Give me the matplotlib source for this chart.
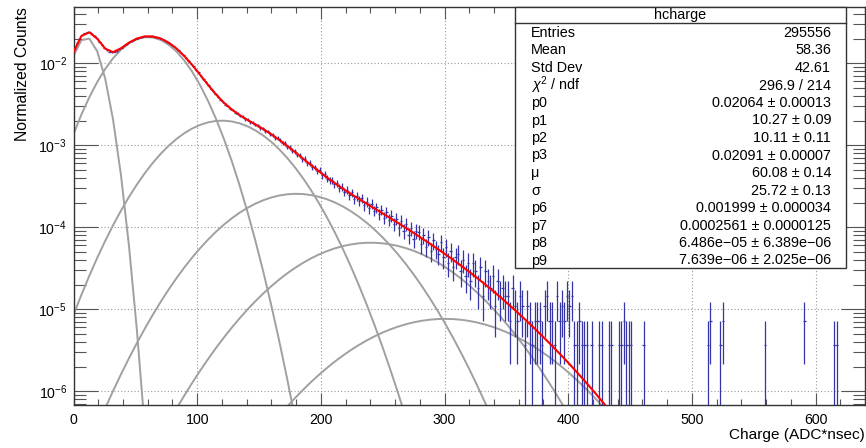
import numpy as np
import matplotlib
matplotlib.use('Agg')
import matplotlib.pyplot as plt
from matplotlib.patches import Rectangle
from matplotlib.ticker import LogLocator, MultipleLocator, NullFormatter

plt.rcParams['font.family'] = ['Liberation Sans', 'DejaVu Sans']
plt.rcParams['mathtext.fontset'] = 'custom'
plt.rcParams['mathtext.rm'] = 'Liberation Sans'
plt.rcParams['mathtext.it'] = 'Liberation Sans:italic'
plt.rcParams['mathtext.sf'] = 'Liberation Sans'

# Histogram: 2 ADC*nsec bins from 0 to 640, raw counts per bin
BIN_WIDTH = 2
X_MAX = 640
N_NORM = 274700.0  # counts -> normalized counts

# bins centred at 1, 3, 5, ..., 359
counts_low = [
    4150, 4890, 5510, 6080, 6420, 6610, 6530, 6340, 5950, 5540,
    5030, 4600, 4260, 3960, 3820, 3740, 3800, 3880, 4060, 4240,
    4480, 4690, 4930, 5110, 5330, 5480, 5650, 5730, 5840, 5860,
    5900, 5850, 5820, 5720, 5630, 5460, 5320, 5090, 4920, 4660,
    4450, 4180, 3960, 3680, 3450, 3180, 2970, 2710, 2520, 2290,
    2130, 1920, 1780, 1610, 1500, 1350, 1270, 1150, 1080, 985,
    935, 860, 825, 765, 740, 688, 668, 625, 612, 572,
    563, 528, 520, 488, 480, 448, 441, 412, 405, 376,
    369, 340, 336, 318, 293, 290, 262, 259, 236, 233,
    211, 208, 186, 187, 166, 168, 149, 148, 134, 139,
    118, 121, 108, 103, 104, 92, 94, 83, 85, 74,
    78, 68, 73, 61, 66, 58, 62, 51, 56, 47,
    53, 44, 48, 40, 45, 36, 42, 34, 38, 30,
    35, 27, 33, 25, 30, 22, 27, 20, 25, 24,
    17, 22, 16, 21, 14, 19, 15, 13, 18, 12,
    16, 10, 14, 9, 12, 13, 8, 11, 7, 10,
    6, 10, 8, 5, 9, 4, 8, 6, 5, 7,
    3, 6, 4, 5, 4, 4, 2, 5, 3, 2,
]

# sparse tail above 360
tail_centres = [361, 363, 365, 367, 369, 371, 373, 375, 377, 379,
                381, 383, 385, 387, 389, 391, 393, 395, 397, 399,
                401, 403, 405, 407, 409, 411, 413, 415, 419, 425,
                427, 433, 435, 441, 443, 445, 447, 449, 451, 461,
                513, 515, 523, 525, 559, 591, 615, 617]
tail_counts = [4, 3, 1, 3, 2, 1, 2, 2, 2, 1,
               3, 4, 2, 2, 1, 4, 2, 3, 2, 4,
               3, 4, 1, 1, 2, 1, 1, 1, 1, 1,
               1, 1, 1, 1, 1, 2, 1, 1, 1, 1,
               1, 2, 1, 2, 1, 2, 1, 1]

# Fit result (stats box)
ped = (0.02064, 10.27, 10.11)        # p0, p1, p2
spe = (0.02091, 60.08, 25.72)        # p3, mu, sigma
npe_amp = [0.001999, 0.0002561, 6.486e-05, 7.639e-06]   # p6..p9 for n = 2..5

stats_rows = [
    ("Entries", "295556"),
    ("Mean", "58.36"),
    ("Std Dev", "42.61"),
    (r"$\chi^{2}$ / ndf", "296.9 / 214"),
    ("p0", "0.02064 \u00b1 0.00013"),
    ("p1", "10.27 \u00b1 0.09"),
    ("p2", "10.11 \u00b1 0.11"),
    ("p3", "0.02091 \u00b1 0.00007"),
    ("\u03bc", "60.08 \u00b1 0.14"),
    ("\u03c3", "25.72 \u00b1 0.13"),
    ("p6", "0.001999 \u00b1 0.000034"),
    ("p7", "0.0002561 \u00b1 0.0000125"),
    ("p8", "6.486e\u221205 \u00b1 6.389e\u221206"),
    ("p9", "7.639e\u221206 \u00b1 2.025e\u221206"),
]


def gaus(x, amp, mean, sigma):
    return amp * np.exp(-0.5 * ((x - mean) / sigma) ** 2)


W, H = 866, 448
fig = plt.figure(figsize=(W / 100, H / 100), dpi=100)
L, R, T, B = 73.5, 865, 7, 405
ax = fig.add_axes([L / W, 1 - B / H, (R - L) / W, (B - T) / H])
ax.set_yscale('log')
ax.set_xlim(0, X_MAX)
ax.set_ylim(6.8e-7, 0.0486)

# data points with ROOT-style error bars
centres = np.concatenate([np.arange(1, 360, BIN_WIDTH), tail_centres]).astype(float)
counts = np.concatenate([counts_low, tail_counts]).astype(float)
vals = counts / N_NORM
errs = np.sqrt(counts) / N_NORM
low = np.minimum(errs, vals * 0.9999)
ax.errorbar(centres, vals, xerr=BIN_WIDTH / 2, yerr=[low, errs], fmt='none',
            ecolor='#3535a8', elinewidth=0.9, capsize=0, zorder=3)

# fit components and total
xf = np.linspace(0, X_MAX, 101)
comps = [gaus(xf, *ped), gaus(xf, *spe)]
for n, amp in enumerate(npe_amp, start=2):
    comps.append(gaus(xf, amp, n * spe[1], np.sqrt(n) * spe[2]))
for c in comps:
    ax.plot(xf, c, color='#a0a0a0', lw=1.4, zorder=2)
ax.plot(xf, np.sum(comps, axis=0), color='#ff0000', lw=1.5, zorder=4)

# axes styling
ax.xaxis.set_major_locator(MultipleLocator(100))
ax.xaxis.set_minor_locator(MultipleLocator(20))
ax.yaxis.set_major_locator(LogLocator(base=10, numticks=20))
ax.yaxis.set_minor_locator(LogLocator(base=10, subs=np.arange(2, 10), numticks=20))
ax.yaxis.set_minor_formatter(NullFormatter())
ax.tick_params(axis='x', which='major', direction='in', length=8.6, width=0.8,
               top=True, labelsize=10.2, pad=5.5, color='#555555')
ax.tick_params(axis='x', which='minor', direction='in', length=4.3, width=0.8,
               top=True, color='#555555')
ax.tick_params(axis='y', which='major', direction='in', length=17, width=0.8,
               right=True, labelsize=10.2, pad=4.5, color='#555555')
ax.tick_params(axis='y', which='minor', direction='in', length=8.5, width=0.8,
               right=True, color='#555555')
for s in ax.spines.values():
    s.set_linewidth(1.0)
    s.set_color('#333333')
ax.grid(which='major', color='#999999', linestyle=(0, (1, 2)), lw=0.8)
ax.set_axisbelow(True)

ax.set_xlabel('Charge (ADC*nsec)', loc='right', fontsize=11.1)
ax.xaxis.set_label_coords(1.0, -0.058)
ax.set_ylabel('Normalized Counts', loc='top', fontsize=11.3)
ax.yaxis.set_label_coords(-0.055, 1.0)

# stats box
def fx(px):
    return px / W


def fy(py):
    return 1 - py / H


bx0, bx1, by0, by1 = 515, 846, 7, 268
fig.patches.append(Rectangle((fx(bx0), fy(by1)), fx(bx1) - fx(bx0), fy(by0) - fy(by1),
                             transform=fig.transFigure, facecolor='white',
                             edgecolor='#333333', lw=1.0, zorder=10))
fig.lines.append(plt.Line2D([fx(bx0), fx(bx1)], [fy(23), fy(23)],
                            transform=fig.transFigure, color='#333333', lw=1.0, zorder=11))
fig.text(fx((bx0 + bx1) / 2), fy(15), 'hcharge', ha='center', va='center',
         fontsize=10.4, zorder=12)
for i, (lab, val) in enumerate(stats_rows):
    yy = fy(33 + i * 17.5)
    fig.text(fx(531), yy, lab, ha='left', va='center', fontsize=10.4, zorder=12)
    fig.text(fx(831), yy, val, ha='right', va='center', fontsize=10.4, zorder=12)

fig.savefig('out.png', dpi=100)
